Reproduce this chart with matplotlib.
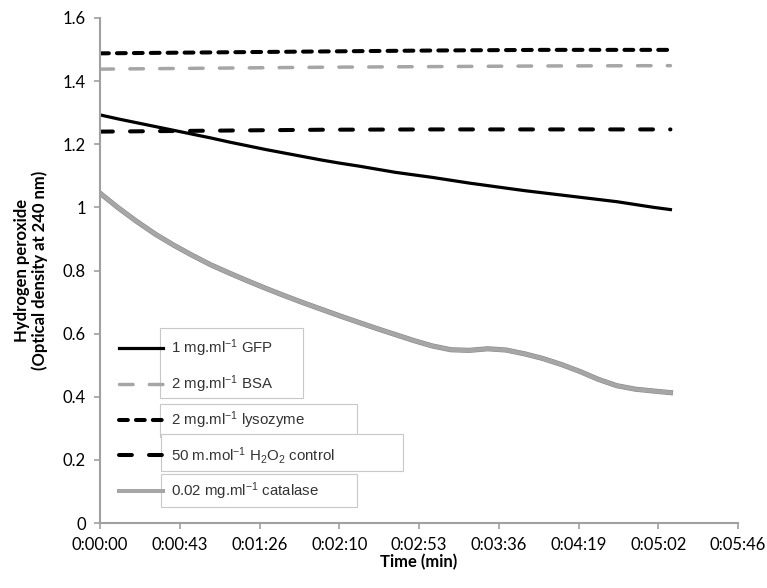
#!/usr/bin/env python3

import matplotlib
matplotlib.use('Agg')
import matplotlib.pyplot as plt
import matplotlib.patheffects as pe
from matplotlib.lines import Line2D
from matplotlib.patches import Rectangle
from matplotlib.ticker import FuncFormatter, MultipleLocator

plt.rcParams['mathtext.fontset'] = 'custom'
plt.rcParams['mathtext.rm'] = 'Liberation Sans'
plt.rcParams['mathtext.it'] = 'Liberation Sans'

# time in seconds
time_s = [0, 10, 20, 30, 40, 50, 60, 70, 80, 90, 100, 110, 120, 130, 140, 150,
          160, 170, 180, 190, 200, 210, 220, 230, 240, 250, 260, 270, 280, 290, 300, 309]
gfp = [1.293, 1.280, 1.268, 1.256, 1.244, 1.232, 1.220, 1.207, 1.195, 1.183,
       1.172, 1.161, 1.150, 1.140, 1.131, 1.121, 1.111, 1.103, 1.095, 1.086,
       1.077, 1.069, 1.061, 1.053, 1.046, 1.039, 1.032, 1.025, 1.018, 1.009,
       1.000, 0.993]
catalase = [1.045, 0.998, 0.955, 0.915, 0.880, 0.848, 0.818, 0.792, 0.767, 0.743,
            0.720, 0.698, 0.677, 0.656, 0.636, 0.616, 0.597, 0.578, 0.561, 0.549,
            0.547, 0.552, 0.548, 0.536, 0.521, 0.502, 0.480, 0.455, 0.435, 0.424,
            0.418, 0.413]

# near-constant controls
time_flat = [0, 60, 120, 180, 240, 309]
bsa = [1.438, 1.441, 1.444, 1.446, 1.448, 1.449]
lysozyme = [1.488, 1.491, 1.494, 1.497, 1.499, 1.499]
control = [1.240, 1.243, 1.246, 1.247, 1.247, 1.247]

labels = [r'1 mg.ml$^{\mathregular{-1}}$ GFP',
          r'2 mg.ml$^{\mathregular{-1}}$ BSA',
          r'2 mg.ml$^{\mathregular{-1}}$ lysozyme',
          r'50 m.mol$^{\mathregular{-1}}$ H$_{\mathregular{2}}$O$_{\mathregular{2}}$ control',
          r'0.02 mg.ml$^{\mathregular{-1}}$ catalase']

W, H = 767, 588
fig = plt.figure(figsize=(W / 100, H / 100), dpi=100)
ax = fig.add_axes([100 / W, 65 / H, 638 / W, 505 / H])

lw = 2.9
cat_effect = [pe.Stroke(linewidth=lw + 0.8, foreground='#8a8a8a'), pe.Normal()]
styles = [
    dict(color='black', lw=2.3, ls='-'),
    dict(color='#a6a6a6', lw=2.5, ls=(0, (3.9, 4.7)), dash_capstyle='round'),
    dict(color='black', lw=lw, ls=(0, (2.2, 2.0)), dash_capstyle='round'),
    dict(color='black', lw=lw, ls=(0, (3.2, 4.25)), dash_capstyle='round'),
    dict(color='#a6a6a6', lw=lw, ls='-'),
]

ax.plot(time_s, catalase, path_effects=cat_effect, **styles[4])
ax.plot(time_flat, control, **styles[3])
ax.plot(time_flat, bsa, **styles[1])
ax.plot(time_flat, lysozyme, **styles[2])
ax.plot(time_s, gfp, **styles[0])

ax.set_xlim(0, 345.6)
ax.set_ylim(0, 1.6)
ax.xaxis.set_major_locator(MultipleLocator(43.2))
ax.yaxis.set_major_locator(MultipleLocator(0.2))

def fmt_time(v, pos):
    s = int(round(v))
    return '%d:%02d:%02d' % (s // 3600, (s // 60) % 60, s % 60)

ax.xaxis.set_major_formatter(FuncFormatter(fmt_time))
ax.yaxis.set_major_formatter(FuncFormatter(lambda v, p: '%g' % round(v, 1)))

for side in ['top', 'right']:
    ax.spines[side].set_visible(False)
for side in ['left', 'bottom']:
    ax.spines[side].set_color('#a0a0a0')
    ax.spines[side].set_linewidth(1.5)
ax.tick_params(direction='out', length=4, width=1.2, color='#a0a0a0',
               labelsize=12, pad=6)
for t in ax.get_xticklabels() + ax.get_yticklabels():
    t.set_fontfamily('Lato')

ax.set_xlabel('Time (min)', fontfamily='Lato', fontweight='bold', fontsize=12, labelpad=1)
ax.set_ylabel('Hydrogen peroxide\n(Optical density at 240 nm)', fontfamily='Lato',
              fontweight='bold', fontsize=12, linespacing=1.05, labelpad=11)

# legend boxes like the original (Excel draws them per entry)
boxes = [(160, 328, 303, 398), (160, 404, 357, 437), (161, 434, 403, 471), (161, 474, 357, 507)]
for x0, y0, x1, y1 in boxes:
    fig.add_artist(Rectangle((x0 / W, 1 - y1 / H), (x1 - x0) / W, (y1 - y0) / H,
                             transform=fig.transFigure, facecolor='white',
                             edgecolor='#c8c8c8', lw=0.8, zorder=5))

handles = [Line2D([], [], **styles[i]) for i in range(5)]
leg = fig.legend(handles, labels, loc='upper left', bbox_to_anchor=(112 / W, 1 - 330 / H),
                 bbox_transform=fig.transFigure, frameon=False,
                 prop={'family': 'Liberation Sans', 'size': 10.8},
                 handlelength=2.9, handletextpad=0.55, labelspacing=0.95, borderpad=0)
leg.set_zorder(6)
for t in leg.get_texts():
    t.set_color('#333333')

fig.savefig('out.png', dpi=100)
